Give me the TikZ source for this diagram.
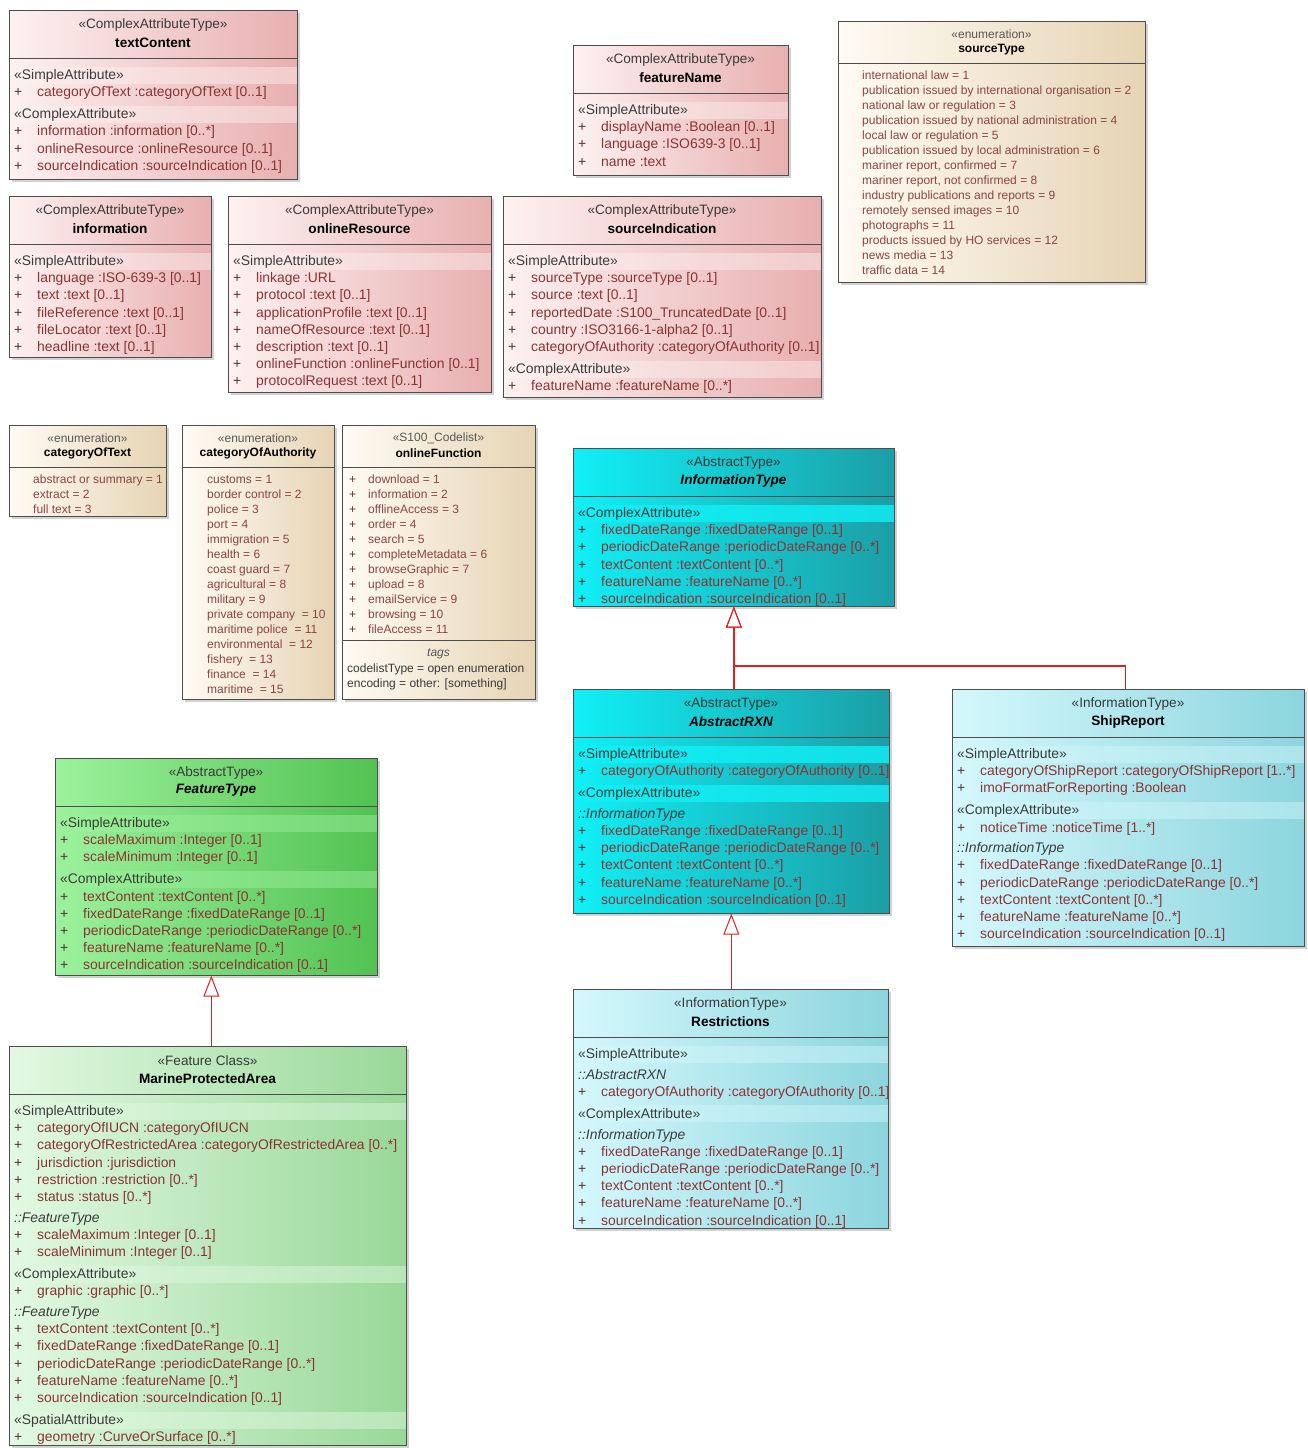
\documentclass[tikz,border=0pt]{standalone}
\usepackage{fontspec}
\setmainfont{Liberation Sans}
\usetikzlibrary{arrows.meta,shadows}
\definecolor{BoxLine}{HTML}{4D4D4D}
\definecolor{HeadGray}{HTML}{3A3A3A}
\definecolor{SecGray}{HTML}{3C3C3C}
\definecolor{AttrRed}{HTML}{8A3434}
\definecolor{PlusGray}{HTML}{5A3030}
\definecolor{LitRed}{HTML}{8A4545}
\definecolor{GenRed}{HTML}{E02020}
\definecolor{PinkL}{HTML}{FDF1F1}
\definecolor{PinkR}{HTML}{E8AFAF}
\definecolor{CreamL}{HTML}{FFFBF3}
\definecolor{CreamR}{HTML}{E6D4B4}
\definecolor{CyanL}{HTML}{10F0F6}
\definecolor{CyanR}{HTML}{1C9EA6}
\definecolor{LCyanL}{HTML}{D4F8FC}
\definecolor{LCyanR}{HTML}{8CD5DE}
\definecolor{GreenL}{HTML}{9CF29C}
\definecolor{GreenR}{HTML}{52C252}
\definecolor{LGreenL}{HTML}{E2F9E2}
\definecolor{LGreenR}{HTML}{98D898}

\newcommand{\attrrow}[1]{\strut\makebox[23pt][l]{\color{PlusGray}+}{\color{AttrRed}#1}}
\newcommand{\secrow}[1]{\strut{\color{SecGray}«#1»}}
\newcommand{\inhrow}[1]{\strut{\color{SecGray}\itshape ::#1}}
\newcommand{\litrow}[1]{\strut{\color{LitRed}#1}}
\newcommand{\codrow}[1]{\strut\makebox[19pt][l]{\color{PlusGray}+}{\color{LitRed}#1}}

\tikzset{
  umlbox/.style={draw=BoxLine, line width=0.7pt, anchor=north west, inner sep=0pt,
    drop shadow={shadow xshift=3pt, shadow yshift=-3pt, opacity=0.35}},
  pinkbox/.style={umlbox, left color=PinkL, right color=PinkR},
  creambox/.style={umlbox, left color=CreamL, right color=CreamR},
  cyanbox/.style={umlbox, left color=CyanL, right color=CyanR},
  lcyanbox/.style={umlbox, left color=LCyanL, right color=LCyanR},
  greenbox/.style={umlbox, left color=GreenL, right color=GreenR},
  lgreenbox/.style={umlbox, left color=LGreenL, right color=LGreenR},
  band/.style={fill=#1, opacity=0.45},
  cband/.style={fill=#1, opacity=0.8},
  stereo/.style={inner sep=0pt, text=HeadGray},
  cname/.style={inner sep=0pt, font=\fontsize{13.6}{17.2}\selectfont\bfseries},
  aname/.style={inner sep=0pt, font=\fontsize{13.6}{17.2}\selectfont\bfseries\itshape},
  attrs/.style={anchor=north west, inner sep=0pt, align=left, font=\fontsize{13.9}{17.2}\selectfont},
  estereo/.style={inner sep=0pt, text=HeadGray!85, font=\fontsize{12}{15}\selectfont},
  ename/.style={inner sep=0pt, font=\fontsize{12}{15}\selectfont\bfseries},
  lits/.style={anchor=north west, inner sep=0pt, align=left, font=\fontsize{12}{15}\selectfont},
  sepline/.style={draw=BoxLine, line width=0.7pt},
  gen/.style={draw=GenRed, line width=1.6pt, -{Triangle[open, length=21pt, width=16pt, line width=1pt]}}
}

\begin{document}
\begin{tikzpicture}[x=1pt, y=-1pt, font=\fontsize{13.6}{17.2}\selectfont]
  \useasboundingbox (0,0) rectangle (1308,1448);
  \fill[white] (0,0) rectangle (1308,1448);

  \begin{scope}[shift={(9,10)}]
    \node[pinkbox, minimum width=288pt, minimum height=169pt] (textContent) at (0,0) {};
    \fill[band=PinkL] (0.5,56.5) rectangle (287.5,73.5);
    \fill[band=PinkL] (0.5,95.7) rectangle (287.5,112.7);
    \node[stereo] (textContent-st) at (144,15) {«ComplexAttributeType»};
    \node[cname] (textContent-nm) at (144,32.5) {textContent};
    \draw[sepline] (0,48) -- (288,48);
    \node[attrs] (textContent-at) at (5,57.2) {\secrow{SimpleAttribute}\\
      \attrrow{categoryOfText :categoryOfText [0..1]}\\[4.8pt]
      \secrow{ComplexAttribute}\\
      \attrrow{information :information [0..*]}\\
      \attrrow{onlineResource :onlineResource [0..1]}\\
      \attrrow{sourceIndication :sourceIndication [0..1]}};
  \end{scope}

  \begin{scope}[shift={(573,45)}]
    \node[pinkbox, minimum width=215pt, minimum height=130pt] (featureName) at (0,0) {};
    \fill[band=PinkL] (0.5,56.5) rectangle (214.5,73.5);
    \node[stereo] (featureName-st) at (107.5,15) {«ComplexAttributeType»};
    \node[cname] (featureName-nm) at (107.5,32.5) {featureName};
    \draw[sepline] (0,48) -- (215,48);
    \node[attrs] (featureName-at) at (5,57.2) {\secrow{SimpleAttribute}\\
      \attrrow{displayName :Boolean [0..1]}\\
      \attrrow{language :ISO639-3 [0..1]}\\
      \attrrow{name :text}};
  \end{scope}

  \begin{scope}[shift={(838,21)}]
    \node[creambox, minimum width=307pt, minimum height=261pt] (sourceType) at (0,0) {};
    \node[estereo] (sourceType-st) at (153.5,13.5) {«enumeration»};
    \node[ename] (sourceType-nm) at (153.5,28.5) {sourceType};
    \draw[sepline] (0,42) -- (307,42);
    \node[lits] (sourceType-li) at (24,48.1) {\litrow{international law = 1}\\
      \litrow{publication issued by international organisation = 2}\\
      \litrow{national law or regulation = 3}\\
      \litrow{publication issued by national administration = 4}\\
      \litrow{local law or regulation = 5}\\
      \litrow{publication issued by local administration = 6}\\
      \litrow{mariner report, confirmed = 7}\\
      \litrow{mariner report, not confirmed = 8}\\
      \litrow{industry publications and reports = 9}\\
      \litrow{remotely sensed images = 10}\\
      \litrow{photographs = 11}\\
      \litrow{products issued by HO services = 12}\\
      \litrow{news media = 13}\\
      \litrow{traffic data = 14}};
  \end{scope}

  \begin{scope}[shift={(9,196)}]
    \node[pinkbox, minimum width=202pt, minimum height=161pt] (information) at (0,0) {};
    \fill[band=PinkL] (0.5,56.5) rectangle (201.5,73.5);
    \node[stereo] (information-st) at (101,15) {«ComplexAttributeType»};
    \node[cname] (information-nm) at (101,32.5) {information};
    \draw[sepline] (0,48) -- (202,48);
    \node[attrs] (information-at) at (5,57.2) {\secrow{SimpleAttribute}\\
      \attrrow{language :ISO-639-3 [0..1]}\\
      \attrrow{text :text [0..1]}\\
      \attrrow{fileReference :text [0..1]}\\
      \attrrow{fileLocator :text [0..1]}\\
      \attrrow{headline :text [0..1]}};
  \end{scope}

  \begin{scope}[shift={(228,196)}]
    \node[pinkbox, minimum width=263pt, minimum height=196pt] (onlineResource) at (0,0) {};
    \fill[band=PinkL] (0.5,56.5) rectangle (262.5,73.5);
    \node[stereo] (onlineResource-st) at (131.5,15) {«ComplexAttributeType»};
    \node[cname] (onlineResource-nm) at (131.5,32.5) {onlineResource};
    \draw[sepline] (0,48) -- (263,48);
    \node[attrs] (onlineResource-at) at (5,57.2) {\secrow{SimpleAttribute}\\
      \attrrow{linkage :URL}\\
      \attrrow{protocol :text [0..1]}\\
      \attrrow{applicationProfile :text [0..1]}\\
      \attrrow{nameOfResource :text [0..1]}\\
      \attrrow{description :text [0..1]}\\
      \attrrow{onlineFunction :onlineFunction [0..1]}\\
      \attrrow{protocolRequest :text [0..1]}};
  \end{scope}

  \begin{scope}[shift={(503,196)}]
    \node[pinkbox, minimum width=318pt, minimum height=201pt] (sourceIndication) at (0,0) {};
    \fill[band=PinkL] (0.5,56.5) rectangle (317.5,73.5);
    \fill[band=PinkL] (0.5,164.5) rectangle (317.5,181.5);
    \node[stereo] (sourceIndication-st) at (159,15) {«ComplexAttributeType»};
    \node[cname] (sourceIndication-nm) at (159,32.5) {sourceIndication};
    \draw[sepline] (0,48) -- (318,48);
    \node[attrs] (sourceIndication-at) at (5,57.2) {\secrow{SimpleAttribute}\\
      \attrrow{sourceType :sourceType [0..1]}\\
      \attrrow{source :text [0..1]}\\
      \attrrow{reportedDate :S100\_TruncatedDate [0..1]}\\
      \attrrow{country :ISO3166-1-alpha2 [0..1]}\\
      \attrrow{categoryOfAuthority :categoryOfAuthority [0..1]}\\[4.8pt]
      \secrow{ComplexAttribute}\\
      \attrrow{featureName :featureName [0..*]}};
  \end{scope}

  \begin{scope}[shift={(9,425)}]
    \node[creambox, minimum width=157pt, minimum height=91pt] (categoryOfText) at (0,0) {};
    \node[estereo] (categoryOfText-st) at (78.5,13.5) {«enumeration»};
    \node[ename] (categoryOfText-nm) at (78.5,28.5) {categoryOfText};
    \draw[sepline] (0,42) -- (157,42);
    \node[lits] (categoryOfText-li) at (24,48.1) {\litrow{abstract or summary = 1}\\
      \litrow{extract = 2}\\
      \litrow{full text = 3}};
  \end{scope}

  \begin{scope}[shift={(182,425)}]
    \node[creambox, minimum width=152pt, minimum height=274pt] (categoryOfAuthority) at (0,0) {};
    \node[estereo] (categoryOfAuthority-st) at (76,13.5) {«enumeration»};
    \node[ename] (categoryOfAuthority-nm) at (76,28.5) {categoryOfAuthority};
    \draw[sepline] (0,42) -- (152,42);
    \node[lits] (categoryOfAuthority-li) at (25,48.1) {\litrow{customs = 1}\\
      \litrow{border control = 2}\\
      \litrow{police = 3}\\
      \litrow{port = 4}\\
      \litrow{immigration = 5}\\
      \litrow{health = 6}\\
      \litrow{coast guard = 7}\\
      \litrow{agricultural = 8}\\
      \litrow{military = 9}\\
      \litrow{private company \ = 10}\\
      \litrow{maritime police \ = 11}\\
      \litrow{environmental \ = 12}\\
      \litrow{fishery \ = 13}\\
      \litrow{finance \ = 14}\\
      \litrow{maritime \ = 15}};
  \end{scope}

  \begin{scope}[shift={(342,425)}]
    \node[creambox, minimum width=193pt, minimum height=274pt] (onlineFunction) at (0,0) {};
    \node[estereo] (onlineFunction-st) at (96.5,13.5) {«S100\_Codelist»};
    \node[ename] (onlineFunction-nm) at (96.5,28.5) {onlineFunction};
    \draw[sepline] (0,42) -- (193,42);
    \node[lits] (onlineFunction-li) at (7,48.1) {\codrow{download = 1}\\
      \codrow{information = 2}\\
      \codrow{offlineAccess = 3}\\
      \codrow{order = 4}\\
      \codrow{search = 5}\\
      \codrow{completeMetadata = 6}\\
      \codrow{browseGraphic = 7}\\
      \codrow{upload = 8}\\
      \codrow{emailService = 9}\\
      \codrow{browsing = 10}\\
      \codrow{fileAccess = 11}};
    \draw[sepline] (0,215) -- (193,215);
    \node[estereo, font=\fontsize{12}{15}\selectfont\itshape] (onlineFunction-tg) at (96.5,228.5) {tags};
    \node[lits, text=HeadGray] (onlineFunction-tv) at (5,237.1) {\strut codelistType = open enumeration\\
      \strut encoding = other: [something]};
  \end{scope}

  \begin{scope}[shift={(573,448)}]
    \node[cyanbox, minimum width=321pt, minimum height=158pt] (InformationType) at (0,0) {};
    \fill[cband=CyanL] (0.5,56.5) rectangle (320.5,73.5);
    \node[stereo] (InformationType-st) at (160.5,15) {«AbstractType»};
    \node[aname] (InformationType-nm) at (160.5,32.5) {InformationType};
    \draw[sepline] (0,48) -- (321,48);
    \node[attrs] (InformationType-at) at (5,57.2) {\secrow{ComplexAttribute}\\
      \attrrow{fixedDateRange :fixedDateRange [0..1]}\\
      \attrrow{periodicDateRange :periodicDateRange [0..*]}\\
      \attrrow{textContent :textContent [0..*]}\\
      \attrrow{featureName :featureName [0..*]}\\
      \attrrow{sourceIndication :sourceIndication [0..1]}};
  \end{scope}

  \begin{scope}[shift={(573,689)}]
    \node[cyanbox, minimum width=316pt, minimum height=224pt] (AbstractRXN) at (0,0) {};
    \fill[cband=CyanL] (0.5,56.5) rectangle (315.5,73.5);
    \fill[cband=CyanL] (0.5,95.7) rectangle (315.5,112.7);
    \node[stereo] (AbstractRXN-st) at (158,15) {«AbstractType»};
    \node[aname] (AbstractRXN-nm) at (158,32.5) {AbstractRXN};
    \draw[sepline] (0,48) -- (316,48);
    \node[attrs] (AbstractRXN-at) at (5,57.2) {\secrow{SimpleAttribute}\\
      \attrrow{categoryOfAuthority :categoryOfAuthority [0..1]}\\[4.8pt]
      \secrow{ComplexAttribute}\\[3.5pt]
      \inhrow{InformationType}\\
      \attrrow{fixedDateRange :fixedDateRange [0..1]}\\
      \attrrow{periodicDateRange :periodicDateRange [0..*]}\\
      \attrrow{textContent :textContent [0..*]}\\
      \attrrow{featureName :featureName [0..*]}\\
      \attrrow{sourceIndication :sourceIndication [0..1]}};
  \end{scope}

  \begin{scope}[shift={(952,689)}]
    \node[lcyanbox, minimum width=352pt, minimum height=257pt] (ShipReport) at (0,0) {};
    \fill[band=LCyanL] (0.5,56.5) rectangle (351.5,73.5);
    \fill[band=LCyanL] (0.5,112.9) rectangle (351.5,129.9);
    \node[stereo] (ShipReport-st) at (176,15) {«InformationType»};
    \node[cname] (ShipReport-nm) at (176,32.5) {ShipReport};
    \draw[sepline] (0,48) -- (352,48);
    \node[attrs] (ShipReport-at) at (5,57.2) {\secrow{SimpleAttribute}\\
      \attrrow{categoryOfShipReport :categoryOfShipReport [1..*]}\\
      \attrrow{imoFormatForReporting :Boolean}\\[4.8pt]
      \secrow{ComplexAttribute}\\
      \attrrow{noticeTime :noticeTime [1..*]}\\[3.5pt]
      \inhrow{InformationType}\\
      \attrrow{fixedDateRange :fixedDateRange [0..1]}\\
      \attrrow{periodicDateRange :periodicDateRange [0..*]}\\
      \attrrow{textContent :textContent [0..*]}\\
      \attrrow{featureName :featureName [0..*]}\\
      \attrrow{sourceIndication :sourceIndication [0..1]}};
  \end{scope}

  \begin{scope}[shift={(55,758)}]
    \node[greenbox, minimum width=322pt, minimum height=217pt] (FeatureType) at (0,0) {};
    \fill[band=GreenL] (0.5,56.5) rectangle (321.5,73.5);
    \fill[band=GreenL] (0.5,112.9) rectangle (321.5,129.9);
    \node[stereo] (FeatureType-st) at (161,15) {«AbstractType»};
    \node[aname] (FeatureType-nm) at (161,32.5) {FeatureType};
    \draw[sepline] (0,48) -- (322,48);
    \node[attrs] (FeatureType-at) at (5,57.2) {\secrow{SimpleAttribute}\\
      \attrrow{scaleMaximum :Integer [0..1]}\\
      \attrrow{scaleMinimum :Integer [0..1]}\\[4.8pt]
      \secrow{ComplexAttribute}\\
      \attrrow{textContent :textContent [0..*]}\\
      \attrrow{fixedDateRange :fixedDateRange [0..1]}\\
      \attrrow{periodicDateRange :periodicDateRange [0..*]}\\
      \attrrow{featureName :featureName [0..*]}\\
      \attrrow{sourceIndication :sourceIndication [0..1]}};
  \end{scope}

  \begin{scope}[shift={(9,1046)}]
    \node[lgreenbox, minimum width=397pt, minimum height=399pt] (MarineProtectedArea) at (0,0) {};
    \fill[band=LGreenL] (0.5,56.5) rectangle (396.5,73.5);
    \fill[band=LGreenL] (0.5,219.6) rectangle (396.5,236.6);
    \fill[band=LGreenL] (0.5,365.5) rectangle (396.5,382.5);
    \node[stereo] (MarineProtectedArea-st) at (198.5,15) {«Feature Class»};
    \node[cname] (MarineProtectedArea-nm) at (198.5,32.5) {MarineProtectedArea};
    \draw[sepline] (0,48) -- (397,48);
    \node[attrs] (MarineProtectedArea-at) at (5,57.2) {\secrow{SimpleAttribute}\\
      \attrrow{categoryOfIUCN :categoryOfIUCN}\\
      \attrrow{categoryOfRestrictedArea :categoryOfRestrictedArea [0..*]}\\
      \attrrow{jurisdiction :jurisdiction}\\
      \attrrow{restriction :restriction [0..*]}\\
      \attrrow{status :status [0..*]}\\[3.5pt]
      \inhrow{FeatureType}\\
      \attrrow{scaleMaximum :Integer [0..1]}\\
      \attrrow{scaleMinimum :Integer [0..1]}\\[4.8pt]
      \secrow{ComplexAttribute}\\
      \attrrow{graphic :graphic [0..*]}\\[3.5pt]
      \inhrow{FeatureType}\\
      \attrrow{textContent :textContent [0..*]}\\
      \attrrow{fixedDateRange :fixedDateRange [0..1]}\\
      \attrrow{periodicDateRange :periodicDateRange [0..*]}\\
      \attrrow{featureName :featureName [0..*]}\\
      \attrrow{sourceIndication :sourceIndication [0..1]}\\[4.8pt]
      \secrow{SpatialAttribute}\\
      \attrrow{geometry :CurveOrSurface [0..*]}};
  \end{scope}

  \begin{scope}[shift={(573,989)}]
    \node[lcyanbox, minimum width=315pt, minimum height=239pt] (Restrictions) at (0,0) {};
    \fill[band=LCyanL] (0.5,56.5) rectangle (314.5,73.5);
    \fill[band=LCyanL] (0.5,116.4) rectangle (314.5,133.4);
    \node[stereo] (Restrictions-st) at (157.5,15) {«InformationType»};
    \node[cname] (Restrictions-nm) at (157.5,32.5) {Restrictions};
    \draw[sepline] (0,48) -- (315,48);
    \node[attrs] (Restrictions-at) at (5,57.2) {\secrow{SimpleAttribute}\\[3.5pt]
      \inhrow{AbstractRXN}\\
      \attrrow{categoryOfAuthority :categoryOfAuthority [0..1]}\\[4.8pt]
      \secrow{ComplexAttribute}\\[3.5pt]
      \inhrow{InformationType}\\
      \attrrow{fixedDateRange :fixedDateRange [0..1]}\\
      \attrrow{periodicDateRange :periodicDateRange [0..*]}\\
      \attrrow{textContent :textContent [0..*]}\\
      \attrrow{featureName :featureName [0..*]}\\
      \attrrow{sourceIndication :sourceIndication [0..1]}};
  \end{scope}

  \coordinate (itjoin) at ([yshift=-59pt]InformationType.south);
  \coordinate (ftjoin) at ([xshift=-5pt]FeatureType.south);
  \coordinate (srtop) at ([xshift=-3pt]ShipReport.north);
  \draw[gen] (AbstractRXN.north -| InformationType.south) -- (InformationType.south);
  \draw[gen] (srtop) |- (itjoin) -- (InformationType.south);
  \draw[gen] (Restrictions.north -| AbstractRXN.south) -- (AbstractRXN.south);
  \draw[gen] (MarineProtectedArea.north -| ftjoin) -- (ftjoin);
\end{tikzpicture}
\end{document}
